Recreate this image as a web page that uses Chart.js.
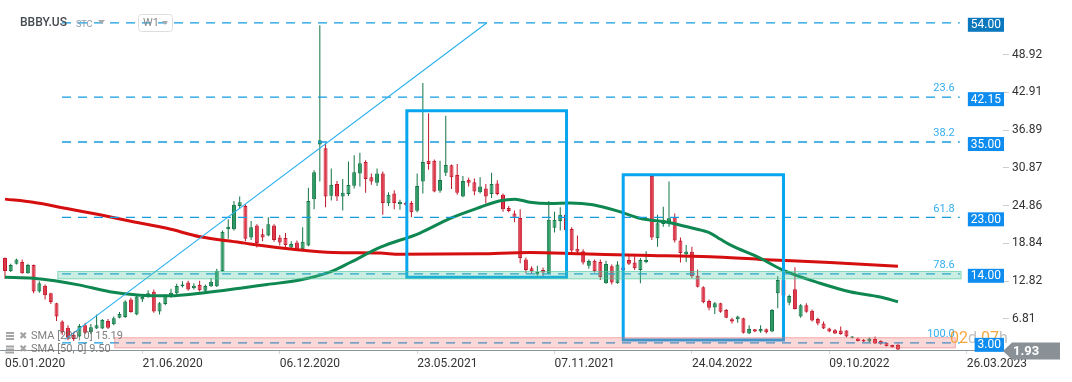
<!DOCTYPE html>
<html>
<head>
<meta charset="utf-8">
<title>BBBY.US W1</title>
<script src="https://cdn.jsdelivr.net/npm/chart.js@4.4.1/dist/chart.umd.min.js"></script>
<style>
  html, body { margin: 0; padding: 0; background: #fff; }
  #wrap { position: relative; width: 1072px; height: 382px; }
</style>
</head>
<body>
<div id="wrap"><canvas id="priceChart"></canvas></div>
<script>
'use strict';

// weekly candles, week 0 = 05.01.2020
const opens = [
  16.5, 14.4, 15.6, 15.9, 14.1, 15.4, 11.2, 12.1, 10.9, 9.3,
  6.4, 5.4, 4.3, 4.0, 5.8, 4.7, 5.3, 5.3, 6.5, 5.95,
  7.0, 7.1, 9.9, 7.5, 9.9, 10.4, 11.15, 8.0, 9.2, 10.3,
  10.9, 12.0, 12.6, 11.7, 12.2, 11.3, 12.0, 12.0, 14.4, 21.1,
  21.1, 24.8, 24.8, 19.8, 21.7, 20.3, 20.1, 21.7, 19.8, 19.7,
  18.2, 19.0, 17.9, 18.5, 25.9, 34.6, 34.0, 26.45, 28.3, 26.3,
  26.7, 28.05, 30.0, 31.8, 29.4, 28.5, 30.0, 25.25, 26.8, 25.1,
  25.3, 25.3, 24.05, 28.7, 32.0, 32.0, 27.25, 30.1, 31.3, 29.75,
  26.3, 29.0, 28.6, 27.0, 27.6, 26.7, 28.4, 26.6, 24.5, 23.6,
  22.9, 16.3, 14.9, 13.9, 14.6, 14.1, 21.35, 22.4, 23.4, 21.15,
  18.0, 17.6, 15.3, 16.1, 15.9, 12.5, 15.2, 12.5, 15.0, 16.2,
  15.8, 14.6, 15.85, 29.6, 19.65, 21.95, 22.05, 23.0, 19.3, 17.1,
  17.5, 13.7, 11.85, 9.65, 8.65, 9.3, 8.25, 6.75, 6.75, 6.9,
  4.5, 5.15, 4.8, 5.15, 4.8, 10.9, 13.0, 9.4, 11.55, 7.2,
  9.0, 8.1, 6.8, 6.1, 5.3, 5.0, 4.95, 4.95, 3.8, 3.7,
  3.45, 3.2, 3.6, 3.3, 3.0, 2.65, 2.7
];
const highs = [
  16.6, 15.6, 16.4, 16.3, 15.6, 15.5, 12.8, 12.3, 11.0, 9.4,
  6.6, 5.8, 4.6, 6.0, 6.2, 6.0, 7.5, 6.8, 6.8, 7.2,
  7.9, 9.8, 10.2, 10.8, 10.6, 11.4, 11.5, 9.5, 10.8, 11.6,
  12.4, 12.8, 12.9, 12.5, 12.9, 12.3, 13.3, 14.8, 20.9, 22.7,
  25.6, 26.3, 25.1, 22.4, 21.9, 21.2, 23.0, 21.9, 20.2, 20.5,
  19.2, 19.3, 21.4, 27.7, 30.5, 53.6, 34.8, 30.8, 28.8, 29.1,
  31.9, 32.9, 33.3, 32.1, 30.0, 30.8, 30.3, 27.0, 27.3, 25.8,
  25.5, 25.6, 30.0, 44.4, 39.6, 32.2, 32.0, 39.2, 31.4, 31.5,
  29.6, 29.3, 29.2, 29.4, 28.3, 30.1, 28.9, 26.8, 24.8, 24.1,
  24.3, 16.6, 15.2, 15.3, 15.0, 25.6, 23.9, 24.6, 23.6, 21.4,
  20.1, 17.9, 16.3, 16.3, 16.3, 16.1, 15.5, 16.0, 15.8, 17.0,
  16.8, 16.5, 17.6, 29.8, 23.4, 24.7, 28.7, 23.6, 19.8, 18.6,
  18.3, 14.7, 12.0, 9.9, 9.5, 9.4, 8.4, 7.0, 7.3, 7.0,
  5.8, 5.2, 5.8, 5.3, 8.4, 13.6, 14.5, 10.7, 15.05, 9.2,
  9.3, 8.3, 7.0, 6.4, 5.4, 5.2, 5.6, 5.0, 4.1, 3.8,
  3.6, 3.8, 4.0, 3.4, 3.1, 2.7, 2.9
];
const lows = [
  13.2, 14.3, 15.5, 14.0, 14.0, 10.9, 11.0, 9.9, 9.2, 6.5,
  4.3, 3.4, 3.3, 3.8, 4.4, 4.4, 5.2, 5.2, 5.2, 5.8,
  6.9, 7.0, 7.8, 7.4, 9.5, 10.2, 7.8, 7.5, 9.0, 10.2,
  10.8, 11.8, 11.3, 11.5, 11.2, 10.9, 11.9, 11.9, 14.3, 19.6,
  20.9, 24.4, 19.2, 19.4, 18.2, 19.2, 20.0, 19.1, 18.5, 18.2,
  18.1, 17.8, 17.8, 18.4, 24.3, 28.7, 24.6, 25.7, 25.6, 24.1,
  26.4, 27.6, 27.9, 26.9, 28.2, 28.0, 23.4, 24.8, 24.3, 24.2,
  24.9, 23.0, 23.8, 26.8, 30.6, 27.0, 26.9, 29.6, 27.5, 26.6,
  26.2, 27.9, 26.5, 26.8, 25.2, 26.1, 26.5, 23.9, 23.8, 22.2,
  15.7, 14.1, 14.0, 13.7, 13.5, 13.9, 20.6, 20.9, 20.8, 17.0,
  17.3, 15.5, 14.8, 14.2, 13.0, 12.4, 12.3, 12.4, 14.2, 15.4,
  14.6, 12.5, 15.7, 19.4, 18.3, 21.5, 21.5, 19.0, 15.8, 15.9,
  13.3, 11.8, 9.3, 8.2, 7.6, 7.8, 6.9, 6.1, 6.2, 4.5,
  4.4, 4.7, 4.6, 4.5, 4.7, 8.5, 10.0, 9.0, 8.3, 7.0,
  7.8, 6.4, 5.8, 5.2, 4.7, 4.4, 4.3, 3.9, 3.7, 3.2,
  3.1, 3.1, 2.8, 2.7, 2.4, 2.2, 1.85
];
const closes = [
  14.45, 15.4, 16.3, 14.1, 15.4, 11.2, 12.5, 10.6, 9.5, 7.2,
  4.7, 3.8, 3.6, 5.7, 4.6, 5.5, 5.8, 6.65, 5.4, 6.9,
  7.6, 9.6, 7.9, 10.4, 10.3, 10.9, 8.0, 9.3, 10.5, 11.0,
  12.05, 12.3, 11.5, 12.1, 11.4, 12.05, 12.75, 14.5, 20.7, 21.5,
  25.0, 25.4, 19.6, 21.4, 18.9, 19.8, 21.9, 19.4, 19.0, 18.6,
  18.75, 17.9, 19.1, 25.6, 30.2, 35.3, 26.3, 28.2, 26.3, 26.9,
  28.15, 30.2, 31.6, 29.1, 28.7, 30.0, 25.3, 26.6, 25.3, 25.5,
  25.0, 23.8, 28.0, 31.8, 31.5, 27.1, 28.95, 31.35, 29.4, 26.9,
  28.8, 28.5, 27.1, 27.9, 26.3, 28.3, 26.7, 24.3, 24.0, 22.9,
  16.5, 14.6, 14.4, 14.3, 14.2, 22.6, 22.6, 23.4, 21.0, 17.7,
  17.5, 15.8, 16.05, 14.4, 13.5, 15.55, 12.6, 15.5, 14.6, 15.6,
  14.9, 16.2, 16.2, 19.8, 22.05, 22.6, 22.85, 19.3, 17.3, 17.55,
  13.6, 11.95, 9.45, 8.6, 9.3, 7.95, 7.0, 6.4, 7.2, 4.6,
  5.2, 4.8, 5.2, 4.7, 8.25, 13.0, 10.5, 10.45, 8.4, 9.0,
  7.95, 6.55, 6.1, 5.3, 4.8, 4.5, 4.4, 4.0, 4.0, 3.3,
  3.2, 3.7, 2.9, 2.85, 2.5, 2.3, 1.93
];

// x axis: week numbers with their date labels
const dateTicks = [0, 24, 48, 72, 96, 120, 144, 168];
const dateLabels = ['05.01.2020', '21.06.2020', '06.12.2020', '23.05.2021',
  '07.11.2021', '24.04.2022', '09.10.2022', '26.03.2023'];
const priceTicks = [48.92, 42.91, 36.89, 30.87, 24.86, 18.84, 12.82, 6.81];

// moving averages (week, value)
const sma200Weeks = [0, 4.9, 10.8, 16.6, 22.4, 28.3, 34.1, 41.1, 42.8, 51.5, 57.3, 65.5,
  69, 83, 91.7, 100.5, 110.9, 123.2, 131.9, 144.1, 156];
const sma200 = [25.9, 25.4, 24.4, 23.4, 22.3, 21.25, 19.9, 19.0, 18.75, 17.8, 17.4, 17.3,
  17.1, 17.2, 17.4, 17.2, 16.95, 16.7, 16.3, 15.8, 15.2];
const sma50Weeks = [0, 4.9, 8.7, 13.1, 18.3, 23.6, 28.8, 34.1, 41.1, 45.8, 51.5, 56.8, 60.3,
  65.5, 72.5, 77.7, 83, 86.5, 89.1, 91.7, 95.2, 98.7, 102.7, 107.4, 110.9, 116.2, 120.2,
  123.2, 125, 126.7, 131.9, 135.9, 142.4, 147.6, 152.9, 156];
const sma50 = [13.45, 13.3, 12.9, 12.2, 11.15, 10.6, 10.5, 10.9, 11.7, 12.3, 13.0, 14.3, 15.8,
  18.2, 20.5, 22.8, 24.6, 25.65, 25.9, 25.4, 25.2, 25.3, 25.0, 23.9, 22.85, 22.15, 21.25,
  20.5, 19.5, 18.6, 16.5, 14.6, 12.5, 11.15, 10.3, 9.55];
const smaLegend = ['SMA [200, 0] 15.19', 'SMA [50, 0] 9.50'];

// drawings on the chart
const fibLevels = [54, 42.15, 35, 23, 14, 3];
const fibNames = ['', '23.6', '38.2', '61.8', '78.6', '100.0'];
const fibWeeks = [9.96, 166.8];
const trendWeeks = [10.48, 84.2];
const trendPrices = [3.55, 54];
const boxWeeks = [[70.2, 98.1], [108.0, 136.0]];
const boxPrices = [[13.45, 40.0], [3.46, 29.8]];
const zoneWeeks = [[9.14, 167.1], [19.1, 166.1]];
const zonePrices = [[13.13, 14.45], [2.13, 3.89]];
const lastPrice = 1.93;

const UP = '#2a9a62', UP_LINE = '#137445';
const DOWN = '#e0384a', DOWN_LINE = '#c0172a';
const FIB_BLUE = '#159ce0';
const zoneFills = ['rgba(80, 200, 160, 0.30)', 'rgba(240, 100, 100, 0.25)'];
const zoneLines = ['rgba(80, 200, 160, 0.55)', 'rgba(235, 110, 110, 0.45)'];

Chart.defaults.font.family = 'Roboto';

function isUp(i) { return closes[i] >= opens[i]; }

const datasets = [];
datasets.push({
  type: 'bar', label: 'wick',
  data: highs.map((h, i) => ({ x: i, y: [lows[i], h] })),
  backgroundColor: c => isUp(c.dataIndex) ? UP_LINE : DOWN_LINE,
  maxBarThickness: 1, grouped: false, order: 9
});
datasets.push({
  type: 'bar', label: 'body',
  data: opens.map((o, i) => ({ x: i, y: [o, closes[i]] })),
  backgroundColor: c => isUp(c.dataIndex) ? UP : DOWN,
  borderColor: c => isUp(c.dataIndex) ? UP_LINE : DOWN_LINE,
  borderWidth: 1, borderSkipped: false, minBarLength: 1,
  maxBarThickness: 4, grouped: false, order: 8
});
datasets.push({
  type: 'line', label: 'SMA 200',
  data: sma200Weeks.map((w, i) => ({ x: w, y: sma200[i] })),
  borderColor: '#d50f0f', borderWidth: 3, pointRadius: 0,
  cubicInterpolationMode: 'monotone', order: 7
});
datasets.push({
  type: 'line', label: 'SMA 50',
  data: sma50Weeks.map((w, i) => ({ x: w, y: sma50[i] })),
  borderColor: '#0f8751', borderWidth: 3, pointRadius: 0,
  cubicInterpolationMode: 'monotone', order: 6
});
fibLevels.forEach(lv => {
  datasets.push({
    type: 'line', label: 'fib',
    data: [{ x: fibWeeks[0], y: lv }, { x: fibWeeks[1], y: lv }],
    borderColor: FIB_BLUE, borderWidth: 1.3, borderDash: [9, 7], pointRadius: 0, order: 5
  });
});
datasets.push({
  type: 'line', label: 'trend',
  data: [{ x: trendWeeks[0], y: trendPrices[0] }, { x: trendWeeks[1], y: trendPrices[1] }],
  borderColor: '#2fb1f3', borderWidth: 1.2, pointRadius: 0, order: 4
});
boxWeeks.forEach((bw, k) => {
  const bp = boxPrices[k];
  datasets.push({
    type: 'line', label: 'box',
    data: [{ x: bw[0], y: bp[0] }, { x: bw[0], y: bp[1] }, { x: bw[1], y: bp[1] },
      { x: bw[1], y: bp[0] }, { x: bw[0], y: bp[0] }],
    borderColor: '#08a6ee', borderWidth: 3, pointRadius: 0,
    borderJoinStyle: 'miter', borderCapStyle: 'square', order: 3
  });
});

function drawTag(ctx, text, xRight, yMid, bg) {
  ctx.font = '12px Roboto';
  const w = ctx.measureText(text).width + 6;
  ctx.fillStyle = bg;
  ctx.fillRect(xRight - w, yMid - 5, w, 14);
  ctx.fillStyle = '#fff';
  ctx.textAlign = 'left';
  ctx.textBaseline = 'middle';
  ctx.fillText(text, xRight - w + 3, yMid + 2.5);
}

function drawTriangle(ctx, x0, yTop, w, h, color) {
  ctx.fillStyle = color;
  ctx.beginPath();
  ctx.moveTo(x0, yTop);
  ctx.lineTo(x0 + w, yTop);
  ctx.lineTo(x0 + w / 2, yTop + h);
  ctx.closePath();
  ctx.fill();
}

const overlay = {
  id: 'overlay',
  afterDatasetsDraw(chart) {
    const { ctx, chartArea: area, scales: { x, y } } = chart;
    ctx.save();
    ctx.beginPath();
    ctx.rect(area.left, area.top, area.right - area.left, area.bottom - area.top);
    ctx.clip();
    zoneWeeks.forEach((zw, k) => {
      const x0 = x.getPixelForValue(zw[0]), x1 = x.getPixelForValue(zw[1]);
      const y0 = y.getPixelForValue(zonePrices[k][1]), y1 = y.getPixelForValue(zonePrices[k][0]);
      ctx.fillStyle = zoneFills[k];
      ctx.fillRect(x0, y0, x1 - x0, y1 - y0);
      ctx.strokeStyle = zoneLines[k];
      ctx.lineWidth = 1;
      ctx.strokeRect(x0 + 0.5, y0 + 0.5, x1 - x0 - 1, y1 - y0 - 1);
    });
    // fib level names
    ctx.font = '11px Roboto';
    ctx.fillStyle = '#34aef0';
    ctx.textAlign = 'right';
    ctx.textBaseline = 'middle';
    const xr = x.getPixelForValue(fibWeeks[1]) - 5;
    fibLevels.forEach((lv, k) => {
      if (fibNames[k]) ctx.fillText(fibNames[k], xr, y.getPixelForValue(lv) - 8.5);
    });
    ctx.restore();
  },
  afterDraw(chart) {
    const { ctx, chartArea: area, scales: { y } } = chart;
    ctx.save();

    // countdown, partly under the 3.00 tag
    ctx.font = '16px Roboto';
    ctx.textAlign = 'left';
    ctx.textBaseline = 'alphabetic';
    let cx = area.right - 53;
    const cy = y.getPixelForValue(fibLevels[5]) + 0.5;
    [['02', 'rgba(245,150,30,0.85)'], ['d ', 'rgba(150,150,150,0.6)'],
     ['07', 'rgba(245,150,30,0.85)'], ['h', 'rgba(150,150,150,0.6)']].forEach(([t, c]) => {
      ctx.fillStyle = c;
      ctx.fillText(t, cx, cy);
      cx += ctx.measureText(t).width;
    });

    // level tags on the right
    fibLevels.forEach((lv, k) => {
      drawTag(ctx, lv.toFixed(2), area.right + 1, y.getPixelForValue(lv), k === 0 ? '#0b77bd' : '#0f8cf0');
    });

    // last price tag
    const py = y.getPixelForValue(lastPrice);
    const xl = area.right;
    ctx.fillStyle = '#899196';
    ctx.beginPath();
    ctx.moveTo(xl, py + 1.5);
    ctx.lineTo(xl + 9, py - 7);
    ctx.lineTo(xl + 57, py - 7);
    ctx.lineTo(xl + 57, py + 10);
    ctx.lineTo(xl + 9, py + 10);
    ctx.closePath();
    ctx.fill();
    ctx.font = 'bold 13px Roboto';
    ctx.fillStyle = '#fff';
    ctx.textBaseline = 'middle';
    ctx.fillText(lastPrice.toFixed(2), xl + 10, py + 2);

    // title bar
    ctx.font = '500 12px Roboto';
    ctx.fillStyle = '#464b51';
    ctx.fillText('BBBY.US', 20, 23);
    ctx.font = '9px Roboto';
    ctx.fillStyle = '#8b9aa7';
    ctx.fillText('STC', 76, 24.5);
    drawTriangle(ctx, 98, 20, 7, 4, '#aaaaaa');
    ctx.strokeStyle = '#dedede';
    ctx.lineWidth = 1;
    ctx.beginPath();
    ctx.roundRect(138.5, 14.5, 34, 17, 3);
    ctx.stroke();
    ctx.font = '11px Roboto';
    ctx.fillStyle = '#8a8a8a';
    ctx.fillText('W1', 143, 23.5);
    drawTriangle(ctx, 162, 21, 6, 4, '#aaaaaa');

    // indicator legend
    smaLegend.forEach((txt, k) => {
      const ly = 336 + k * 13.5;
      ctx.fillStyle = '#a3a3a3';
      for (let b = 0; b < 3; b++) ctx.fillRect(6, ly - 4 + b * 3, 8, 2);
      ctx.font = '10px "DejaVu Sans"';
      ctx.fillText('\u2716', 19, ly);
      ctx.font = '11px Roboto';
      ctx.fillStyle = 'rgba(105,105,105,0.85)';
      ctx.fillText(txt, 31, ly);
    });
    ctx.restore();
  }
};

const canvas = document.getElementById('priceChart');
new Chart(canvas.getContext('2d'), {
  type: 'bar',
  data: { datasets },
  options: {
    responsive: true,
    maintainAspectRatio: false,
    animation: false,
    layout: { padding: 0 },
    plugins: { legend: { display: false }, tooltip: { enabled: false } },
    scales: {
      x: {
        type: 'linear',
        position: 'bottom',
        min: -0.874,
        max: 174.35,
        offset: false,
        grid: { display: true, offset: false, drawOnChartArea: false, tickLength: 4, color: '#d6d6d6' },
        border: { display: true, color: '#8c9499', width: 1 },
        afterBuildTicks: s => { s.ticks = dateTicks.map(v => ({ value: v })); },
        afterFit: s => { s.height = 32; s.paddingLeft = 0; s.paddingRight = 0; },
        ticks: {
          align: 'start',
          autoSkip: false,
          maxRotation: 0,
          padding: 3,
          color: '#333',
          font: { size: 12 },
          callback: (v) => dateLabels[dateTicks.indexOf(v)]
        }
      },
      y: {
        type: 'linear',
        position: 'right',
        min: 1.86,
        max: 57.63,
        grid: { drawOnChartArea: false, tickLength: 6, color: '#cccccc' },
        border: { display: false },
        afterBuildTicks: s => { s.ticks = priceTicks.map(v => ({ value: v })); },
        afterFit: s => { s.width = 69; s.paddingTop = 0; s.paddingBottom = 0; },
        ticks: {
          padding: 3,
          color: '#333',
          font: { size: 12 },
          callback: v => v.toFixed(2)
        }
      }
    }
  },
  plugins: [overlay]
});
</script>
</body>
</html>
